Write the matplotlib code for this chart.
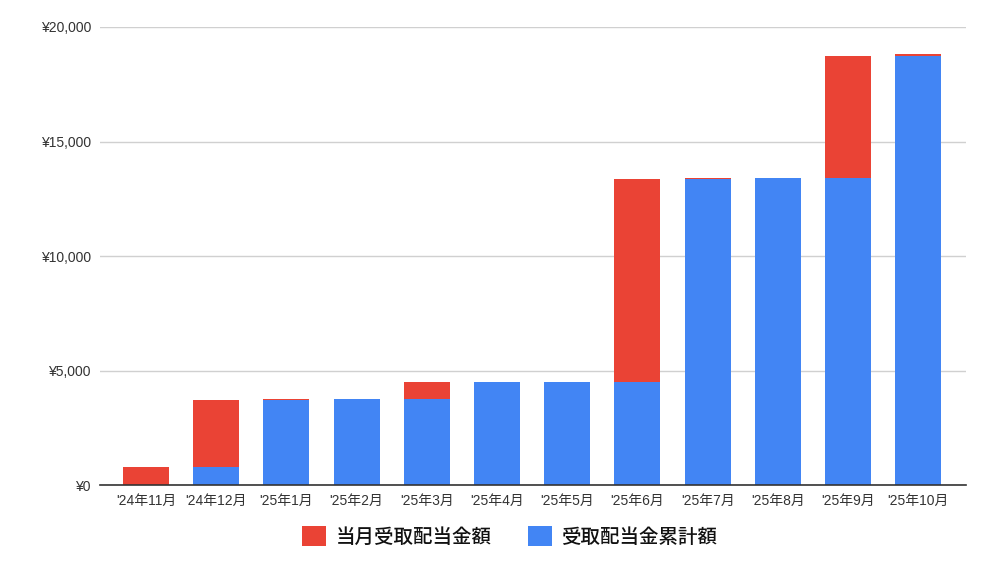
import matplotlib
matplotlib.use("Agg")
from matplotlib import pyplot as plt
from matplotlib.ticker import FuncFormatter
from matplotlib.patches import Patch
import numpy as np

plt.rcParams['font.family'] = ['Liberation Sans', 'Noto Sans CJK JP', 'DejaVu Sans']

# months on the x axis
months = ["'24年11月", "'24年12月", "'25年1月", "'25年2月", "'25年3月", "'25年4月",
          "'25年5月", "'25年6月", "'25年7月", "'25年8月", "'25年9月", "'25年10月"]
# blue part: dividends received up to the previous month (yen)
cumulative = [0, 815, 3724, 3768, 3768, 4496, 4496, 4496, 13349, 13419, 13419, 18727]
# red part: dividends received in the month (yen)
monthly = [815, 2909, 44, 0, 728, 0, 0, 8853, 70, 0, 5308, 90]

red = '#EA4335'
blue = '#4285F4'

fig = plt.figure(figsize=(10, 5.62), dpi=100)
ax = fig.add_axes([0.100, 0.1363, 0.866, 0.8157])

x = np.arange(len(months))
width = 0.655
ax.bar(x, cumulative, width, color=blue, zorder=2)
ax.bar(x, monthly, width, bottom=cumulative, color=red, zorder=2)

ax.set_xlim(-0.655, len(months) - 1 + 0.68)
ax.set_ylim(0, 20000)
ax.set_yticks([0, 5000, 10000, 15000, 20000])
ax.yaxis.set_major_formatter(FuncFormatter(lambda v, p: '¥{:,.0f}'.format(v)))
ax.set_xticks(x)
ax.set_xticklabels(months)

ax.grid(axis='y', color='#d0d0d0', linewidth=1, zorder=0)
for s in ['top', 'right', 'left']:
    ax.spines[s].set_visible(False)
ax.spines['bottom'].set_color('#333333')
ax.spines['bottom'].set_linewidth(1.2)
ax.spines['bottom'].set_zorder(3)
ax.tick_params(axis='both', length=0, labelsize=10, colors='#333333')
ax.tick_params(axis='x', pad=6)
ax.tick_params(axis='y', pad=6.5)

handles = [Patch(facecolor=red, label='当月受取配当金額'),
           Patch(facecolor=blue, label='受取配当金累計額')]
leg = fig.legend(handles=handles, loc='center', bbox_to_anchor=(0.51, 0.045), ncol=2,
                 frameon=False, fontsize=14, handlelength=1.2, handleheight=1.2,
                 handletextpad=0.5, columnspacing=1.9, labelcolor='#111111',
                 prop={'family': ['Noto Sans CJK JP'], 'weight': 'medium', 'size': 14})

fig.savefig('out.png', dpi=100, facecolor='white')
